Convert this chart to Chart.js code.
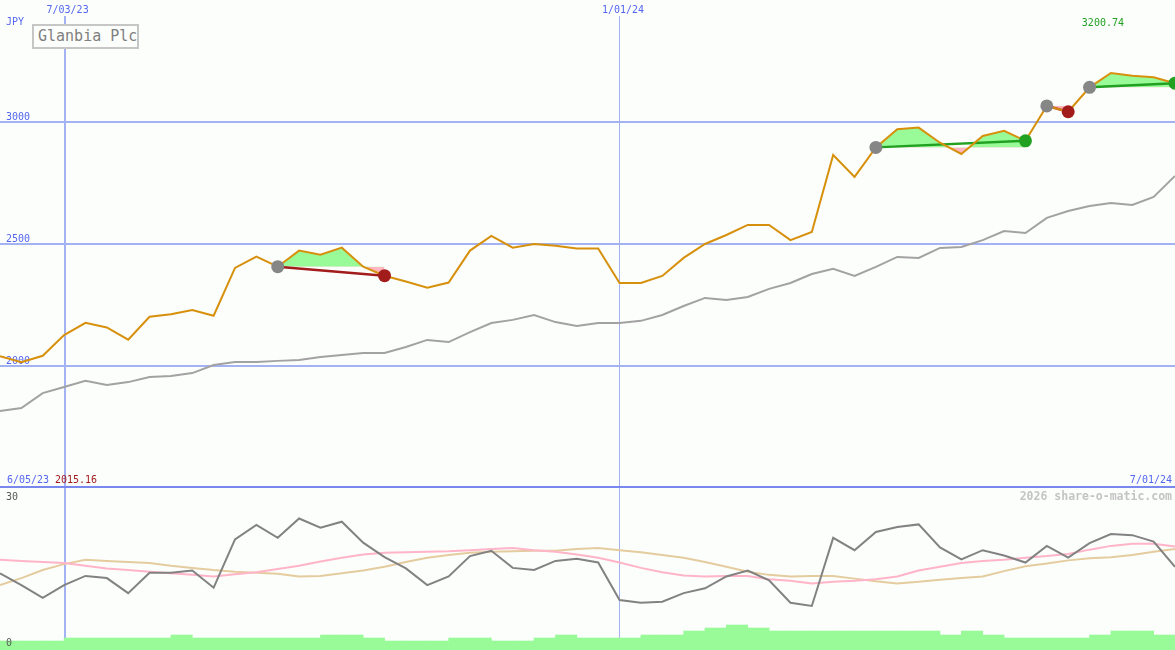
<!DOCTYPE html>
<html lang="en">
<head>
    <meta charset="UTF-8">
    <title>Glanbia Plc</title>
    <style>
        body {
            margin: 0;
            background: #fcfefc;
        }
        #wrap {
            position: relative;
            width: 1175px;
            height: 650px;
            overflow: hidden;
        }
        #priceChart, #oscChart {
            position: absolute;
            left: 0;
        }
        #priceChart { top: 0; }
        #oscChart { top: 488px; }
        .name {
            position: absolute;
            left: 32px;
            top: 24px;
            width: 107px;
            height: 25px;
            box-sizing: border-box;
            border: 2px solid #c6c6c6;
            background: #fcfefc;
            color: #808080;
            font: 15px "DejaVu Sans Mono", monospace;
            line-height: 20px;
            padding-left: 4px;
            white-space: nowrap;
        }
    </style>
</head>
<body>
<div id="wrap">
    <canvas id="priceChart" width="1175" height="488"></canvas>
    <canvas id="oscChart" width="1175" height="162"></canvas>
    <div class="name">Glanbia Plc</div>
</div>

<script src="https://cdn.jsdelivr.net/npm/chart.js"></script>
<script>
    // weekly closes, first point = week 1 (week 0 is 6/05/23)
    const price = [2040, 2015.16, 2042, 2127, 2177, 2158, 2108, 2202, 2212, 2229,
        2206, 2402, 2448, 2407, 2473, 2456, 2485, 2407, 2370, 2346,
        2321, 2342, 2473, 2533, 2485, 2500, 2493, 2482, 2482, 2340,
        2340, 2369, 2443, 2500, 2537, 2578, 2578, 2516, 2549, 2865,
        2775, 2896, 2970, 2977, 2915, 2869, 2943, 2964, 2923, 3066,
        3042, 3142, 3200.74, 3190, 3183, 3159];
    const avg = [1816, 1828, 1889, 1914, 1939, 1922, 1934, 1955, 1959, 1971,
        2004, 2016, 2016, 2021, 2025, 2037, 2045, 2053, 2053, 2078,
        2107, 2098, 2139, 2176, 2189, 2209, 2180, 2164, 2176, 2176,
        2185, 2209, 2246, 2279, 2271, 2283, 2316, 2340, 2377, 2398,
        2369, 2406, 2447, 2443, 2484, 2488, 2516, 2553, 2545, 2607,
        2635, 2656, 2668, 2660, 2693, 2779];

    // trades (week numbers)
    const entryWeek = [14, 42, 50, 52];
    const exitWeek = [19, 49, 51, 56];

    // lower panel
    const osc = [14.3, 12.1, 9.7, 12.1, 13.8, 13.4, 10.6, 14.4, 14.4, 14.8,
        11.6, 20.6, 23.3, 20.9, 24.5, 22.8, 23.9, 20.0, 17.3, 15.2,
        12.1, 13.7, 17.5, 18.5, 15.3, 14.9, 16.6, 17.0, 16.3, 9.3,
        8.8, 9.0, 10.6, 11.5, 13.7, 14.8, 13.0, 8.8, 8.2, 20.9,
        18.6, 22.0, 22.9, 23.4, 19.1, 16.9, 18.6, 17.6, 16.3, 19.4,
        17.2, 19.9, 21.6, 21.4, 20.2, 15.5];
    const oscAvg = [16.8, 16.6, 16.4, 16.2, 15.7, 15.2, 14.9, 14.6, 14.3, 14.0,
        13.7, 14.1, 14.5, 15.1, 15.7, 16.5, 17.2, 17.8, 18.1, 18.2,
        18.3, 18.4, 18.6, 18.8, 19.0, 18.6, 18.3, 17.8, 17.2, 16.3,
        15.3, 14.5, 13.9, 13.7, 13.8, 13.8, 13.2, 12.9, 12.4, 12.7,
        12.9, 13.2, 13.7, 14.8, 15.5, 16.2, 16.6, 16.8, 17.2, 17.5,
        17.9, 18.7, 19.4, 19.8, 19.8, 19.3];
    const oscSlow = [12.1, 13.4, 14.9, 16.0, 16.8, 16.6, 16.4, 16.2, 15.7, 15.3,
        14.9, 14.6, 14.4, 14.2, 13.7, 13.8, 14.3, 14.8, 15.5, 16.4,
        17.2, 17.7, 18.1, 18.3, 18.4, 18.5, 18.5, 18.8, 19.0, 18.6,
        18.2, 17.7, 17.2, 16.4, 15.5, 14.6, 14.0, 13.7, 13.8, 13.8,
        13.3, 12.8, 12.4, 12.7, 13.1, 13.4, 13.7, 14.7, 15.6, 16.1,
        16.7, 17.1, 17.3, 17.7, 18.3, 18.8];
    // volume per week, week 0 .. 55
    const volume = [90, 90, 90, 90, 120, 120, 120, 120, 120, 150,
        120, 120, 120, 120, 120, 120, 150, 150, 120, 90,
        90, 90, 120, 120, 90, 90, 120, 150, 120, 120,
        120, 150, 150, 190, 220, 250, 220, 190, 190, 190,
        190, 190, 190, 190, 190, 150, 190, 150, 120, 120,
        120, 120, 150, 190, 190, 150];

    const gridWeeks = [4, 30];
    const gridLabels = ['7/03/23', '1/01/24'];
    const priceTicks = [2000, 2500, 3000];
    const startLabel = '6/05/23';
    const endLabel = '7/01/24';

    const GRID = '#a3b2f2';
    const EDGE = '#7888ee';
    const LABEL = '#5466f0';
    const FONT = '10px "DejaVu Sans Mono", monospace';
    const FILL_UP = '#98fb98';
    const FILL_DOWN = '#ffb6c1';
    const WIN = '#22a022';
    const LOSS = '#a21c1c';

    const pts = arr => arr.map((v, i) => ({ x: i + 1, y: v }));
    const pricePts = pts(price);

    const tradeSets = [];
    entryWeek.forEach((ew, t) => {
        const xw = exitWeek[t];
        const inP = price[ew - 1];
        const outP = price[xw - 1];
        tradeSets.push({
            data: pricePts.slice(ew - 1, xw),
            borderWidth: 0,
            pointRadius: 0,
            backgroundColor: 'transparent',
            fill: { target: { value: inP }, above: FILL_UP, below: FILL_DOWN },
            order: 10
        });
        tradeSets.push({
            data: [{ x: ew, y: inP }, { x: xw, y: outP }],
            borderColor: outP >= inP ? WIN : LOSS,
            borderWidth: 2.5,
            pointRadius: 0,
            fill: false,
            order: 6
        });
    });

    const markerPts = [];
    const markerCols = [];
    entryWeek.forEach((ew, t) => {
        markerPts.push({ x: ew, y: price[ew - 1] });
        markerCols.push('#868686');
        const xw = exitWeek[t];
        markerPts.push({ x: xw, y: price[xw - 1] });
        markerCols.push(price[xw - 1] >= price[ew - 1] ? WIN : LOSS);
    });

    const topDecor = {
        id: 'topDecor',
        beforeDatasetsDraw(chart) {
            const { ctx, chartArea: a, scales: { x, y } } = chart;
            ctx.save();
            ctx.fillStyle = GRID;
            priceTicks.forEach(v => {
                const py = Math.round(y.getPixelForValue(v));
                ctx.fillRect(a.left, py - 1, a.right - a.left, 2);
            });
            gridWeeks.forEach((w, i) => {
                const px = x.getPixelForValue(w);
                if (i === 0) ctx.fillRect(Math.round(px), 16, 2, a.bottom - 16);
                else ctx.fillRect(Math.floor(px), 16, 1, a.bottom - 16);
            });
            ctx.fillStyle = EDGE;
            ctx.fillRect(a.left, a.bottom - 2, a.right - a.left, 2);

            ctx.font = FONT;
            ctx.textBaseline = 'alphabetic';
            ctx.fillStyle = LABEL;
            ctx.textAlign = 'left';
            ctx.fillText('JPY', 6, 25);
            priceTicks.forEach(v => ctx.fillText(String(v), 6, y.getPixelForValue(v) - 2));
            ctx.fillText(startLabel, 7, 483);
            ctx.textAlign = 'center';
            gridWeeks.forEach((w, i) => ctx.fillText(gridLabels[i], x.getPixelForValue(w) + 3.5, 13));
            ctx.textAlign = 'right';
            ctx.fillText(endLabel, 1172, 483);

            const lo = Math.min(...price);
            const hi = Math.max(...price);
            ctx.textAlign = 'left';
            ctx.fillStyle = LOSS;
            ctx.fillText(lo.toFixed(2), 55, 483);
            ctx.fillStyle = WIN;
            ctx.textAlign = 'center';
            ctx.fillText(hi.toFixed(2), x.getPixelForValue(price.indexOf(hi) + 1) - 8, 26);
            ctx.restore();
        }
    };

    const lowDecor = {
        id: 'lowDecor',
        beforeDatasetsDraw(chart) {
            const { ctx, scales: { x } } = chart;
            const h = chart.height;
            ctx.save();
            ctx.fillStyle = GRID;
            gridWeeks.forEach((w, i) => {
                const px = x.getPixelForValue(w);
                if (i === 0) ctx.fillRect(Math.round(px), 0, 2, h);
                else ctx.fillRect(Math.floor(px), 0, 1, h);
            });
            ctx.font = 'bold 11.5px "DejaVu Sans Mono", monospace';
            ctx.fillStyle = '#c4c4c4';
            ctx.textAlign = 'right';
            ctx.fillText('2026 share-o-matic.com', 1172, 12);
            ctx.restore();
        },
        afterDatasetsDraw(chart) {
            const { ctx } = chart;
            ctx.save();
            ctx.font = FONT;
            ctx.fillStyle = '#585858';
            ctx.textAlign = 'left';
            ctx.fillText('30', 6, 12);
            ctx.fillText('0', 6, 158);
            ctx.restore();
        }
    };

    const xAxis = { type: 'linear', min: 1, max: 56, display: false, offset: false };

    new Chart(document.getElementById('priceChart'), {
        type: 'line',
        data: {
            datasets: [
                ...tradeSets,
                {
                    data: pts(avg),
                    borderColor: '#a2a2a2',
                    borderWidth: 2,
                    pointRadius: 0,
                    fill: false,
                    order: 8
                },
                {
                    data: pricePts,
                    borderColor: '#d7900c',
                    borderWidth: 2,
                    pointRadius: 0,
                    fill: false,
                    order: 4
                },
                {
                    data: markerPts,
                    showLine: false,
                    pointRadius: 6.5,
                    pointBorderWidth: 0,
                    pointBackgroundColor: markerCols,
                    pointBorderColor: 'transparent',
                    fill: false,
                    order: 1
                }
            ]
        },
        options: {
            responsive: false,
            animation: false,
            devicePixelRatio: 1,
            events: [],
            layout: { padding: 0, autoPadding: false },
            plugins: { legend: { display: false }, tooltip: { enabled: false } },
            scales: {
                x: xAxis,
                y: { min: 1500, max: 3500, display: false }
            }
        },
        plugins: [topDecor]
    });

    new Chart(document.getElementById('oscChart'), {
        type: 'line',
        data: {
            datasets: [
                {
                    type: 'bar',
                    data: volume.map((v, i) => ({ x: i + 0.5, y: v })),
                    backgroundColor: '#98fb98',
                    borderWidth: 0,
                    barPercentage: 1,
                    categoryPercentage: 1,
                    yAxisID: 'vol',
                    order: 10
                },
                {
                    data: pts(oscSlow),
                    borderColor: '#e4cc9e',
                    borderWidth: 2,
                    pointRadius: 0,
                    fill: false,
                    order: 5
                },
                {
                    data: pts(oscAvg),
                    borderColor: '#ffb4c8',
                    borderWidth: 2,
                    pointRadius: 0,
                    fill: false,
                    order: 4
                },
                {
                    data: pts(osc),
                    borderColor: '#828282',
                    borderWidth: 2,
                    pointRadius: 0,
                    fill: false,
                    order: 3
                }
            ]
        },
        options: {
            responsive: false,
            animation: false,
            devicePixelRatio: 1,
            events: [],
            layout: { padding: { top: 1 }, autoPadding: false },
            plugins: { legend: { display: false }, tooltip: { enabled: false } },
            scales: {
                x: xAxis,
                y: { min: 0, max: 30, display: false },
                vol: { min: 0, max: 1610, display: false }
            }
        },
        plugins: [lowDecor]
    });
</script>
</body>
</html>
